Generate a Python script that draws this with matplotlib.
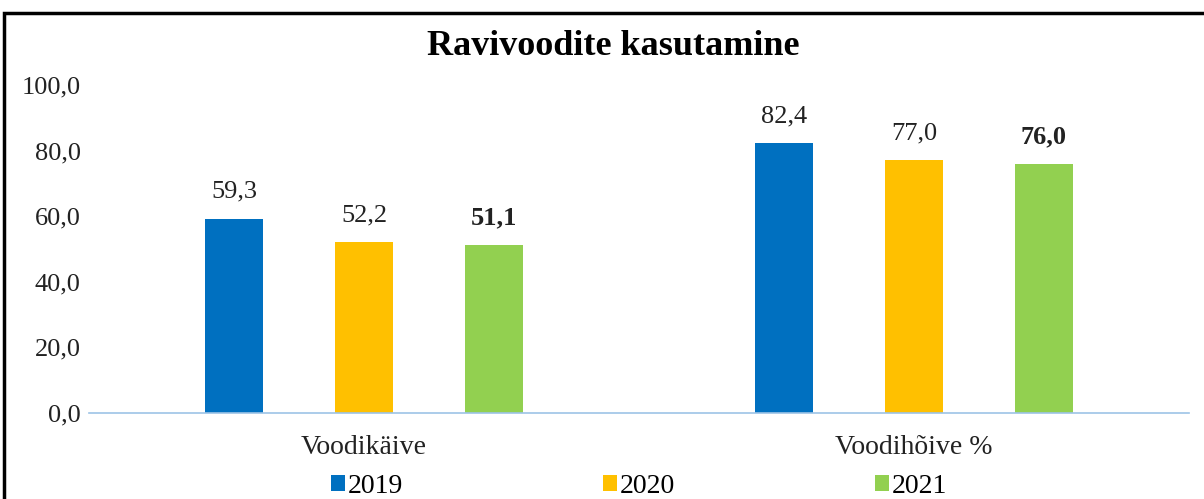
import matplotlib.pyplot as plt
from matplotlib.patches import Rectangle
import numpy as np

categories = ["Voodikäive", "Voodihõive %"]
years = ["2019", "2020", "2021"]
values = {
    "2019": [59.3, 82.4],
    "2020": [52.2, 77.0],
    "2021": [51.1, 76.0],
}
colors = ["#0070C0", "#FFC000", "#92D050"]

plt.rcParams["font.family"] = ["Liberation Serif", "DejaVu Serif"]

fig = plt.figure(figsize=(12.04, 4.99), dpi=100)
ax = fig.add_axes([0.0739, 0.1723, 0.9136, 0.6573])

x = np.arange(len(categories))
offsets = [-0.236, 0, 0.236]
width = 0.105
handles = []
for i, yr in enumerate(years):
    bars = ax.bar(x + offsets[i], values[yr], width, color=colors[i], label=yr)
    handles.append(bars)
    for b, v in zip(bars, values[yr]):
        ax.text(b.get_x() + b.get_width() / 2, v + 4.8, f"{v:.1f}".replace(".", ","),
                ha="center", va="bottom", fontsize=19,
                fontweight="bold" if yr == "2021" else "normal", color="#222222")

ax.set_xlim(-0.5, 1.5)
ax.set_ylim(0, 100)
ax.set_yticks(np.arange(0, 101, 20))
ax.set_yticklabels([f"{t:.1f}".replace(".", ",") for t in np.arange(0, 101, 20)], fontsize=19)
ax.set_xticks(x)
ax.set_xticklabels(categories, fontsize=20)
ax.tick_params(axis="both", length=0, colors="#222222")
ax.tick_params(axis="y", pad=6)
ax.tick_params(axis="x", pad=16)
for s in ["top", "right", "left"]:
    ax.spines[s].set_visible(False)
ax.spines["bottom"].set_color("#9DC3E6")
ax.spines["bottom"].set_linewidth(1.2)

fig.text(0.509, 0.906, "Ravivoodite kasutamine", ha="center", va="center",
         fontsize=26, fontweight="bold")

fig.legend(handles=handles, labels=years, loc="center", bbox_to_anchor=(0.531, 0.026),
           ncol=3, frameon=False, fontsize=20, handlelength=0.5, handleheight=0.5,
           handletextpad=0.1, columnspacing=7.2, borderpad=0)

fig.patches.append(Rectangle((4 / 1204, -0.05), 1.2, (499 - 13) / 499 + 0.05,
                             transform=fig.transFigure, fill=False,
                             edgecolor="black", linewidth=2.5))

fig.savefig("out.png", dpi=100)
